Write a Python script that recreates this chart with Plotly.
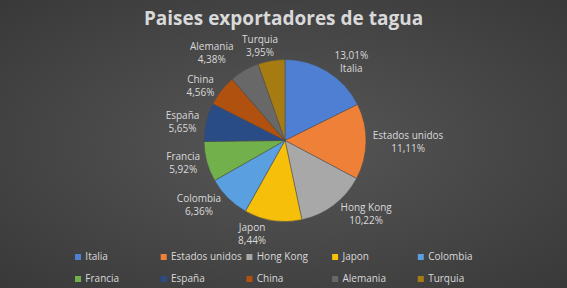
import plotly.graph_objects as go
import base64
import math

paises = ["Italia", "Estados unidos", "Hong Kong", "Japon", "Colombia",
          "Francia", "España", "China", "Alemania", "Turquia"]
porcentajes = [13.01, 11.11, 10.22, 8.44, 6.36, 5.92, 5.65, 4.56, 4.38, 3.95]
colores = ["#4F7FD2", "#EE8037", "#A8A8A8", "#F5BF0A", "#5A9FE0",
           "#72B04B", "#2A4C86", "#B1510F", "#686868", "#A67C12"]

W, H = 567, 288
CX, CY, R = 285, 140.5, 81  # pie centre and radius in pixels
FONT = "Open Sans"
TXT = "#d9d9d9"

def fmt(v):
    return f"{v:.2f}".replace(".", ",") + "%"

textos = []
for i, (p, v) in enumerate(zip(paises, porcentajes)):
    textos.append(f"{fmt(v)}<br>{p}" if i == 0 else f"{p}<br>{fmt(v)}")

# the last two labels (Alemania, Turquia) are placed as annotations next to
# their slices (plotly would otherwise push them apart with leader lines)
N_ANN = 2
posiciones = ["outside"] * (len(paises) - N_ANN) + ["none"] * N_ANN
total = sum(porcentajes)
acum = [sum(porcentajes[:i]) for i in range(len(porcentajes))]
# label placement relative to the slice mid point: (dx, dy, xanchor)
ajustes = {len(paises) - 2: (-8, -2, "right"), len(paises) - 1: (-11, 0, "center")}
anotaciones = []
for i, (dx, dy, xa) in ajustes.items():
    mid = (acum[i] + porcentajes[i] / 2) / total * 2 * math.pi
    pxm = CX + R * math.sin(mid)
    pym = CY - R * math.cos(mid)
    anotaciones.append(dict(text=textos[i], xref="paper", yref="paper",
                            x=(pxm + dx) / W, y=1 - (pym + dy) / H,
                            xanchor=xa, yanchor="bottom", showarrow=False,
                            font=dict(color=TXT, size=10, family=FONT)))

svg = ('<svg xmlns="http://www.w3.org/2000/svg" width="567" height="288" preserveAspectRatio="none">'
       '<defs><radialGradient id="g" cx="50%" cy="50%" r="70%">'
       '<stop offset="0%" stop-color="#575757"/><stop offset="100%" stop-color="#393939"/>'
       '</radialGradient></defs><rect width="567" height="288" fill="url(#g)"/></svg>')
bg = "data:image/svg+xml;base64," + base64.b64encode(svg.encode()).decode()

fig = go.Figure()
fig.add_trace(go.Pie(
    labels=paises,
    values=porcentajes,
    text=textos,
    textinfo="text",
    textposition=posiciones,
    hoverinfo="label+value",
    sort=False,
    direction="clockwise",
    rotation=0,
    showlegend=False,
    marker=dict(colors=colores, line=dict(color="#4a4a4a", width=0.5)),
    outsidetextfont=dict(color=TXT, size=10, family=FONT),
    domain=dict(x=[(CX - 115) / W, (CX + 115) / W],
                y=[1 - (CY + R) / H, 1 - (CY - R) / H]),
))

# legend: 2 rows x 5 columns of square keys, laid out on a hidden axis grid
NCOL = 5
col = [i % NCOL for i in range(len(paises))]
fila = [i // NCOL for i in range(len(paises))]
LX0, LDX = 78, 85.7     # first key centre and column pitch (px)
LY0, LDY = 257, 22      # first row centre and row pitch (px)
fig.add_trace(go.Scatter(
    x=col, y=fila, mode="markers+text", text=[" " + p for p in paises],
    textposition="middle right",
    textfont=dict(family=FONT, size=10, color=TXT),
    marker=dict(symbol="square", size=6, color=colores),
    showlegend=False, hoverinfo="skip", cliponaxis=False,
))

fig.update_layout(
    width=W, height=H,
    margin=dict(l=0, r=0, t=0, b=0, autoexpand=False),
    paper_bgcolor="#474747",
    plot_bgcolor="rgba(0,0,0,0)",
    showlegend=False,
    xaxis=dict(visible=False, fixedrange=True, domain=[0, 1],
               range=[-LX0 / LDX, (W - LX0) / LDX]),
    yaxis=dict(visible=False, fixedrange=True, domain=[0, 1],
               range=[(H - LY0) / LDY, -LY0 / LDY]),
    title=dict(text="<b>Paises exportadores de tagua</b>", x=0.5, xanchor="center",
               y=1 - 18 / H, yref="container", yanchor="middle",
               font=dict(family=FONT, size=19, color=TXT)),
    annotations=anotaciones,
    images=[dict(source=bg, xref="paper", yref="paper", x=0, y=1, sizex=1, sizey=1,
                 sizing="stretch", layer="below", xanchor="left", yanchor="top")],
)

fig.write_html("out.html", config={"displayModeBar": False},
               post_script="document.body.style.margin='0';")
